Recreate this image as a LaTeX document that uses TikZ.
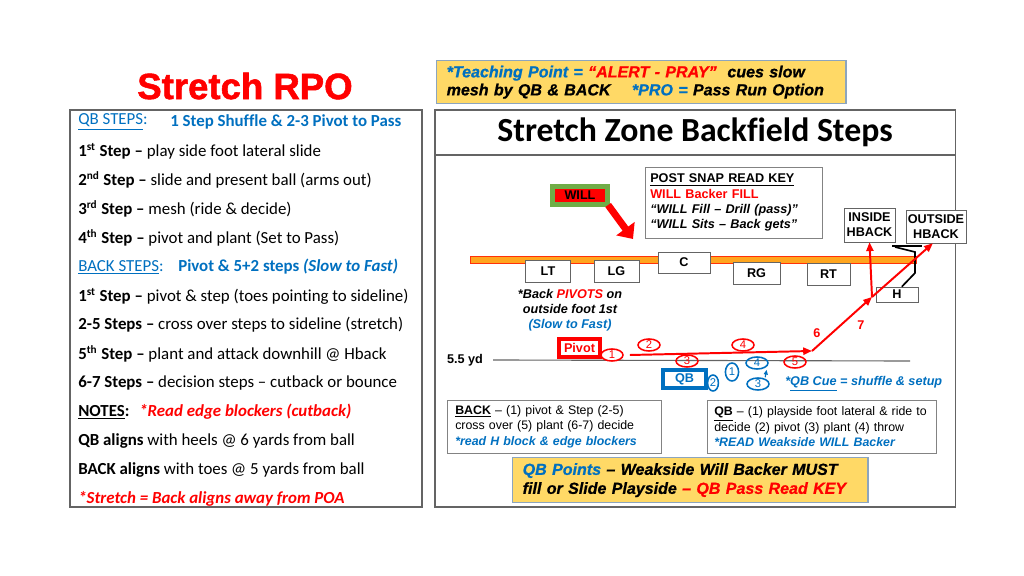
\documentclass[tikz,border=0pt]{standalone}
\usepackage{fontspec}
\setmainfont{Liberation Sans}
\newfontfamily\carlito[Ligatures=NoCommon]{Carlito}
\newfontfamily\heavyfont[BoldFeatures={FakeBold=1.5},BoldItalicFeatures={FakeBold=0.8}]{Liberation Sans}
\usetikzlibrary{arrows.meta,shapes.geometric}

\definecolor{rpored}{RGB}{255,0,0}
\definecolor{rpoblue}{RGB}{0,112,192}
\definecolor{rpogold}{RGB}{255,217,102}
\definecolor{rpoedge}{RGB}{140,165,190}
\definecolor{rpogreen}{RGB}{112,173,71}
\definecolor{rpoline}{RGB}{255,165,30}
\definecolor{rpogray}{RGB}{100,100,100}

\begin{document}
\begin{tikzpicture}[
x=0.025cm, y=-0.025cm,
panel/.style={rectangle, draw=rpogray, thick, inner sep=0},
lefttxt/.style={anchor=west, inner sep=0, font=\carlito\fontsize{12}{14}\selectfont},
infobox/.style={rectangle, draw=rpogray!80, fill=white, align=left, anchor=north west, inner xsep=0.2cm, font=\fontsize{8.8}{11}\selectfont},
goldbox/.style={rectangle, draw=rpoedge, line width=1pt, fill=rpogold, align=left, anchor=north west, inner xsep=0.25cm, font=\heavyfont\bfseries\itshape\fontsize{11.4}{12.8}\selectfont},
lineman/.style={rectangle, draw=rpogray, fill=white, inner sep=0, minimum height=0.55cm, font=\bfseries\fontsize{9}{11}\selectfont},
hbackbox/.style={rectangle, draw=rpogray, fill=white, inner sep=0, align=center, font=\bfseries\fontsize{9}{10.5}\selectfont},
redoval/.style={ellipse, draw=rpored, line width=1.1pt, text=rpored, inner sep=0, minimum width=0.55cm, minimum height=0.3cm, font=\fontsize{8}{8}\selectfont},
blueoval/.style={ellipse, draw=rpoblue, line width=1.1pt, text=rpoblue, inner sep=0, minimum width=0.55cm, minimum height=0.3cm, font=\fontsize{8}{8}\selectfont},
redpath/.style={draw=rpored, line width=1.4pt, -{Triangle[length=0.22cm,width=0.18cm]}},
fieldtxt/.style={inner sep=0, font=\bfseries\fontsize{9}{11}\selectfont},
]
\useasboundingbox (0,0) rectangle (1024,576);
\fill[white] (0,0) rectangle (1024,576);

%Title and left panel
\node[text=rpored, font=\heavyfont\bfseries\fontsize{26}{30}\selectfont] (rpotitle) at (245,86) {Stretch RPO};
\node[panel, minimum width=8.8cm, minimum height=9.925cm] (leftpanel) at (246,308.5) {};

\node[lefttxt, text=rpoblue] (qbhead) at (78,122) {\underline{QB STEPS}:};
\node[lefttxt, text=rpoblue] (qbshuffle) at (170,122) {\bfseries 1 Step Shuffle \& 2-3 Pivot to Pass};
\node[lefttxt] (qbone) at (78,151) {\textbf{1\textsuperscript{st} Step –} play side foot lateral slide};
\node[lefttxt] (qbtwo) at (78,180) {\textbf{2\textsuperscript{nd} Step –} slide and present ball (arms out)};
\node[lefttxt] (qbthree) at (78,209) {\textbf{3\textsuperscript{rd} Step –} mesh (ride \& decide)};
\node[lefttxt] (qbfour) at (78,238) {\textbf{4\textsuperscript{th} Step –} pivot and plant (Set to Pass)};
\node[lefttxt, text=rpoblue] (backhead) at (78,267) {\underline{BACK STEPS}:};
\node[lefttxt, text=rpoblue] (backpivot) at (178,267) {\bfseries Pivot \& 5+2 steps \textit{(Slow to Fast)}};
\node[lefttxt] (backone) at (78,296) {\textbf{1\textsuperscript{st} Step –} pivot \& step (toes pointing to sideline)};
\node[lefttxt] (backtwo) at (78,325) {\textbf{2-5 Steps –} cross over steps to sideline (stretch)};
\node[lefttxt] (backfive) at (78,354) {\textbf{5\textsuperscript{th} Step –} plant and attack downhill @ Hback};
\node[lefttxt] (backsix) at (78,383) {\textbf{6-7 Steps –} decision steps – cutback or bounce};
\node[lefttxt] (noteshead) at (78,412) {\textbf{\underline{NOTES}:}};
\node[lefttxt, text=rpored] (notesedge) at (139,412) {\bfseries\itshape *Read edge blockers (cutback)};
\node[lefttxt] (qbalign) at (78,441) {\textbf{QB aligns} with heels @ 6 yards from ball};
\node[lefttxt] (backalign) at (78,470) {\textbf{BACK aligns} with toes @ 5 yards from ball};
\node[lefttxt, text=rpored] (stretchnote) at (78,499) {\bfseries\itshape *Stretch = Back aligns away from POA};

%Right panel
\node[goldbox, minimum width=10.225cm, minimum height=1.075cm, text width=9.725cm] (teaching) at (436,60)
  {{\color{rpoblue}*Teaching Point = }{\color{rpored}“ALERT - PRAY”}\ \ cues slow\\
   mesh by QB \& BACK\quad\ {\color{rpoblue}*PRO = }Pass Run Option};
\node[panel, minimum width=13cm, minimum height=1.125cm, font=\carlito\bfseries\fontsize{24}{28}\selectfont] (steptitle) at (695,132.5) {Stretch Zone Backfield Steps};
\node[panel, minimum width=13cm, minimum height=8.8cm] (rightpanel) at (695,331) {};

\node[infobox, minimum width=4.425cm, minimum height=1.775cm, inner xsep=0.125cm, text width=4.175cm, font=\fontsize{9}{10.9}\selectfont] (readkey) at (645,167)
  {\textbf{\underline{POST SNAP READ KEY}}\\
   \textcolor{rpored}{\textbf{WILL Backer FILL}}\\
   \textbf{\textit{“WILL Fill – Drill (pass)”}}\\
   \textbf{\textit{“WILL Sits – Back gets”}}};
\node[rectangle, fill=rpored, draw=rpogreen, line width=0.125cm, minimum width=1.38cm, minimum height=0.45cm, inner sep=0, font=\bfseries\fontsize{9}{11}\selectfont] (will) at (580,195.5) {WILL};
\coordinate (willtip) at (633,239);
\draw[rpored, line width=5pt, -{Triangle[length=0.32cm,width=0.55cm]}] ([xshift=-0.05cm,yshift=0.05cm]will.south east) -- (willtip);

%Line of scrimmage
\draw[line width=6pt, rpored!70!rpoline] (470,260) -- (917,260);
\draw[line width=3.8pt, rpoline] (471,260) -- (916,260);

%Linemen
\node[lineman, minimum width=1.125cm] (lt) at (548,271) {LT};
\node[lineman, minimum width=1.125cm] (lg) at (616.5,271.5) {LG};
\node[lineman, minimum width=1.3cm, minimum height=0.525cm] (c) at (684,262.5) {C};
\node[lineman, minimum width=1.175cm] (rg) at (756.5,273.5) {RG};
\node[lineman, minimum width=1.075cm] (rt) at (828.5,274) {RT};
\node[hbackbox, minimum width=1.275cm, minimum height=0.85cm] (inside) at (869.5,225) {INSIDE\\HBACK};
\node[hbackbox, minimum width=1.5cm, minimum height=0.825cm] (outside) at (936,226.5) {OUTSIDE\\HBACK};
\node[lineman, minimum width=1.05cm, minimum height=0.375cm] (hback) at (897,294.5) {H};

%H block
\draw[line width=1.6pt] (892,246) -- (922,246);
\draw[line width=1.2pt] (895,247) -- (915,252) -- (915,273) -- ([xshift=0.12cm]hback.north);

%Backfield
\node[fieldtxt, align=center, font=\bfseries\itshape\fontsize{9}{10.7}\selectfont] (pivotnote) at (570,310)
  {*Back \textcolor{rpored}{PIVOTS} on\\outside foot 1st\\\textcolor{rpoblue}{(Slow to Fast)}};
\node[fieldtxt] (yd) at (465,360) {5.5 yd};
\draw[rpogray, thick] ([xshift=0.25cm]yd.east) -- (910,361);

\node[rectangle, draw=rpored, line width=0.1cm, fill=white, minimum width=1.025cm, minimum height=0.45cm, inner sep=0, text=rpored, font=\bfseries\fontsize{9}{11}\selectfont] (pivot) at (579.5,348) {Pivot};
\node[rectangle, draw=rpoblue, line width=0.1cm, fill=white, minimum width=1.075cm, minimum height=0.45cm, inner sep=0, text=rpoblue, font=\bfseries\fontsize{9}{11}\selectfont] (qb) at (684.5,379) {QB};

\node[redoval, fill=white] (rone) at (612,355) {1};
\node[redoval] (rtwo) at (649,345) {2};
\node[redoval] (rthree) at (687,361) {3};
\node[redoval] (rfour) at (743,345) {4};
\node[redoval] (rfive) at (795,362) {5};
\node[blueoval, minimum width=0.33cm, minimum height=0.45cm] (bone) at (732,372) {1};
\node[blueoval, minimum width=0.27cm, minimum height=0.4cm] (btwo) at (713,383) {2};
\node[blueoval] (bthree) at (758,384) {3};
\node[blueoval] (bfour) at (757,363) {4};
\draw[rpoblue, thick, -{Triangle[length=0.12cm,width=0.1cm]}] ([xshift=0.18cm]bthree.north) -- ([xshift=0.24cm]bfour.south);

\coordinate (plant) at (812,351);
\coordinate (cut) at (872,297);
\draw[redpath] (rone.east) ++(0.15cm,0) -- (plant);
\draw[redpath] (plant) -- (cut);
\draw[redpath] (cut) -- (inside.south);
\draw[redpath] (cut) -- ([xshift=-0.08cm]outside.south);
\node[fieldtxt, text=rpored] (six) at (817,333) {6};
\node[fieldtxt, text=rpored] (seven) at (861,325) {7};

\node[fieldtxt, anchor=west, text=rpoblue, font=\bfseries\itshape\fontsize{9}{11}\selectfont] (qbcue) at (785,384) {*\underline{QB Cue} = shuffle \& setup};

%Bottom boxes
\node[infobox, minimum width=5.35cm, minimum height=1.325cm, text width=4.95cm] (backbox) at (447,400)
  {\textbf{\underline{BACK}} – (1) pivot \& Step (2-5)\\
   cross over (5) plant (6-7) decide\\
   \textcolor{rpoblue}{\textbf{\textit{*read H block \& edge blockers}}}};
\node[infobox, minimum width=5.725cm, minimum height=1.325cm, inner xsep=0.175cm, text width=5.375cm] (qbbox) at (707,400)
  {\textbf{\underline{QB}} – (1) playside foot lateral \& ride to\\
   decide (2) pivot (3) plant (4) throw\\
   \textcolor{rpoblue}{\textbf{\textit{*READ Weakside WILL Backer}}}};
\node[goldbox, minimum width=8.875cm, minimum height=1.125cm, text width=8.375cm, font=\heavyfont\bfseries\itshape\fontsize{11.4}{13.5}\selectfont] (qbpoints) at (512,457)
  {{\color{rpoblue}QB Points} – Weakside Will Backer MUST\\
   fill or Slide Playside {\color{rpored}– QB Pass Read KEY}};
\end{tikzpicture}
\end{document}
